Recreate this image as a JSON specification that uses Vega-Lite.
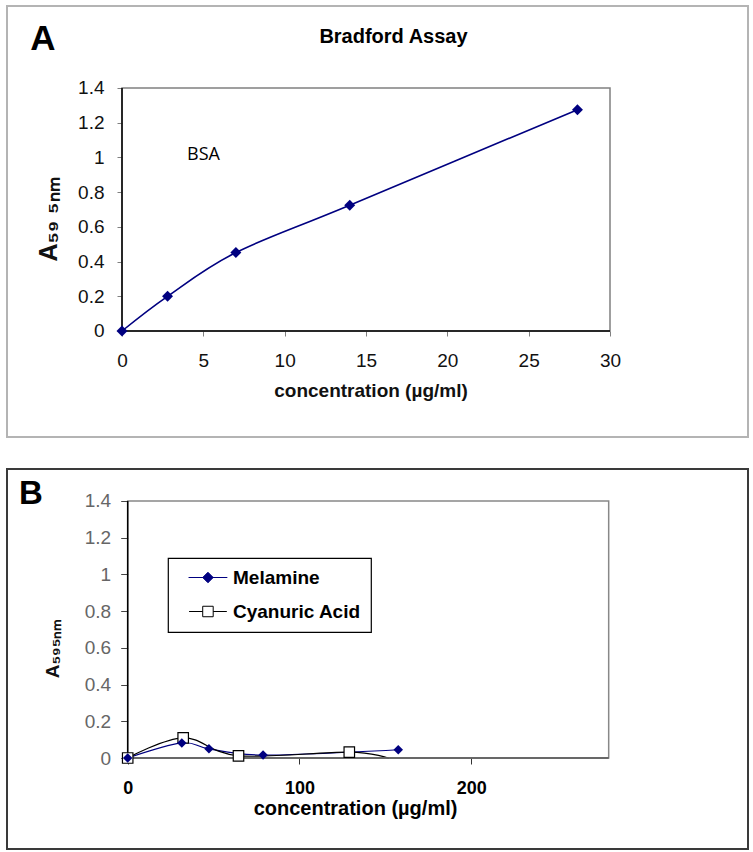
{
  "$schema": "https://vega.github.io/schema/vega-lite/v6.json",
  "padding": {"left": 6, "top": 5, "right": 0, "bottom": 0},
  "background": "white",
  "spacing": 30,
  "config": {"font": "Liberation Sans", "axis": {"grid": false, "zindex": 1}},
  "datasets": {
    "bsa": [
      {"c": 0, "a": 0},
      {"c": 2.8, "a": 0.2},
      {"c": 7, "a": 0.452},
      {"c": 14, "a": 0.725},
      {"c": 28, "a": 1.275}
    ],
    "b": [
      {"s": "Melamine", "c": 0, "a": 0},
      {"s": "Melamine", "c": 31.5, "a": 0.082},
      {"s": "Melamine", "c": 47.3, "a": 0.05},
      {"s": "Melamine", "c": 78.8, "a": 0.016},
      {"s": "Melamine", "c": 157.5, "a": 0.045},
      {"s": "Cyanuric Acid", "c": 0, "a": 0},
      {"s": "Cyanuric Acid", "c": 32.3, "a": 0.11},
      {"s": "Cyanuric Acid", "c": 64.5, "a": 0.012},
      {"s": "Cyanuric Acid", "c": 129, "a": 0.032},
      {"s": "Cyanuric Acid", "c": 152, "a": -0.002}
    ],
    "one": [{}]
  },
  "vconcat": [
    {
      "width": 741,
      "height": 431,
      "view": {"stroke": "#b4b4b4", "strokeWidth": 2},
      "layer": [
        {
          "data": {"name": "bsa"},
          "mark": {"type": "line", "interpolate": "cardinal", "color": "#000080", "strokeWidth": 1.6},
          "encoding": {
            "x": {
              "field": "c", "type": "quantitative",
              "scale": {"domain": [-7.0697, 38.4836], "nice": false, "zero": false},
              "axis": {
                "values": [0, 5, 10, 15, 20, 25, 30], "offset": -106, "domain": false,
                "tickColor": "#808080", "tickSize": 5, "labelFontSize": 19, "labelColor": "#111",
                "labelPadding": 15, "labelFlush": false, "labelOverlap": false, "format": "d",
                "title": "concentration (µg/ml)", "titleFontSize": 19, "titleFontWeight": "bold",
                "titleColor": "#111", "titleX": 363.5, "titleY": 59, "titleAlign": "center", "titleBaseline": "middle"
              }
            },
            "y": {
              "field": "a", "type": "quantitative",
              "scale": {"domain": [-0.6107, 1.8724], "nice": false, "zero": false},
              "axis": {
                "values": [0, 0.2, 0.4, 0.6, 0.8, 1, 1.2, 1.4], "offset": -115, "domain": false,
                "tickColor": "#808080", "tickSize": 5, "labelFontSize": 19, "labelColor": "#111",
                "labelPadding": 13, "labelFlush": false, "labelOverlap": false, "format": "~g",
                "title": "A₅₉ ₅ₙₘ", "titleFontSize": 25, "titleFontWeight": "bold", "titleColor": "#111",
                "titleX": -74, "titleY": 213, "titleAngle": -90, "titleAlign": "center", "titleBaseline": "middle"
              }
            }
          }
        },
        {
          "data": {"name": "one"},
          "mark": {"type": "rect", "fill": null, "stroke": "#808080", "strokeWidth": 1.5},
          "encoding": {
            "x": {"datum": 0, "type": "quantitative"},
            "x2": {"datum": 30},
            "y": {"datum": 0, "type": "quantitative"},
            "y2": {"datum": 1.4}
          }
        },
        {
          "data": {"name": "one"},
          "mark": {"type": "rule", "color": "black", "strokeWidth": 1.5},
          "encoding": {
            "x": {"datum": 0, "type": "quantitative"},
            "y": {"datum": 0, "type": "quantitative"},
            "y2": {"datum": 1.4}
          }
        },
        {
          "data": {"name": "one"},
          "mark": {"type": "rule", "color": "black", "strokeWidth": 1.5},
          "encoding": {
            "x": {"datum": 0, "type": "quantitative"},
            "x2": {"datum": 30},
            "y": {"datum": 0, "type": "quantitative"}
          }
        },
        {
          "data": {"name": "bsa"},
          "mark": {"type": "point", "shape": "diamond", "filled": true, "color": "#000080", "size": 120, "opacity": 1},
          "encoding": {
            "x": {"field": "c", "type": "quantitative"},
            "y": {"field": "a", "type": "quantitative"}
          }
        },
        {
          "data": {"name": "one"},
          "mark": {"type": "text", "text": "BSA", "font": "Open Sans", "fontSize": 18, "align": "left", "baseline": "middle", "color": "black"},
          "encoding": {
            "x": {"datum": 4.0, "type": "quantitative"},
            "y": {"datum": 1.014, "type": "quantitative"}
          }
        },
        {
          "data": {"name": "one"},
          "mark": {"type": "text", "text": "Bradford Assay", "fontSize": 20, "fontWeight": "bold", "align": "center", "baseline": "middle", "color": "black"},
          "encoding": {
            "x": {"datum": 16.69, "type": "quantitative"},
            "y": {"datum": 1.694, "type": "quantitative"}
          }
        },
        {
          "data": {"name": "one"},
          "mark": {"type": "text", "text": "A", "fontSize": 35, "fontWeight": "bold", "align": "center", "baseline": "middle", "color": "black"},
          "encoding": {
            "x": {"datum": -4.86, "type": "quantitative"},
            "y": {"datum": 1.682, "type": "quantitative"}
          }
        }
      ]
    },
    {
      "width": 741,
      "height": 380,
      "view": {"stroke": "#3a3a3a", "strokeWidth": 2},
      "layer": [
        {
          "data": {"name": "b"},
          "mark": {"type": "line", "interpolate": "cardinal", "strokeWidth": 1.2},
          "encoding": {
            "x": {
              "field": "c", "type": "quantitative",
              "scale": {"domain": [-70.26, 361.1], "nice": false, "zero": false},
              "axis": {
                "values": [0, 100, 200], "offset": -91, "domain": false,
                "tickColor": "#333", "tickSize": 6, "labelFontSize": 18, "labelFontWeight": "bold", "labelColor": "#000",
                "labelPadding": 15, "labelFlush": false, "labelOverlap": false, "format": "d",
                "title": "concentration (µg/ml)", "titleFontSize": 20, "titleFontWeight": "bold",
                "titleColor": "#000", "titleX": 348, "titleY": 50, "titleAlign": "center", "titleBaseline": "middle"
              }
            },
            "y": {
              "field": "a", "type": "quantitative",
              "scale": {"domain": [-0.4957, 1.5743], "nice": false, "zero": false},
              "axis": {
                "values": [0, 0.2, 0.4, 0.6, 0.8, 1, 1.2, 1.4], "offset": -120.7, "domain": false,
                "tickColor": "#444", "tickSize": 7, "labelFontSize": 19, "labelColor": "#666",
                "labelPadding": 10, "labelFlush": false, "labelOverlap": false, "format": "~g",
                "title": "A₅₉₅ₙₘ", "titleFontSize": 19, "titleFontWeight": "bold", "titleColor": "#111",
                "titleX": -75, "titleY": 179, "titleAngle": -90, "titleAlign": "center", "titleBaseline": "middle"
              }
            },
            "color": {
              "field": "s", "type": "nominal",
              "scale": {"domain": ["Melamine", "Cyanuric Acid"], "range": ["#000080", "#000000"]},
              "legend": {
                "title": null, "orient": "none", "legendX": 161, "legendY": 552,
                "fillColor": "white", "strokeColor": "black", "padding": 10,
                "labelFontSize": 19, "labelFontWeight": "bold", "labelColor": "#000", "labelOffset": 36,
                "rowPadding": 14, "symbolSize": 110,
                "encode": {
                  "legend": {"update": {"strokeWidth": {"value": 1.2}}},
                  "symbols": {
                    "update": {
                      "shape": {"signal": "datum.value === 'Melamine' ? 'M0.2,0H7.6M3.9,-1L4.9,0L3.9,1L2.9,0Z' : 'M0.3,0H2.9M4.9,0H7.5M2.9,-1H4.9V1H2.9Z'"},
                      "fill": {"signal": "datum.value === 'Melamine' ? '#000080' : '#ffffff'"},
                      "stroke": {"signal": "datum.value === 'Melamine' ? '#000080' : '#000000'"},
                      "strokeWidth": {"value": 1},
                      "opacity": {"value": 1}
                    }
                  }
                }
              }
            }
          }
        },
        {
          "data": {"name": "one"},
          "mark": {"type": "rect", "fill": null, "stroke": "#888888", "strokeWidth": 1.5},
          "encoding": {
            "x": {"datum": 0, "type": "quantitative"},
            "x2": {"datum": 280},
            "y": {"datum": 0, "type": "quantitative"},
            "y2": {"datum": 1.4}
          }
        },
        {
          "data": {"name": "one"},
          "mark": {"type": "rule", "color": "black", "strokeWidth": 1.5},
          "encoding": {
            "x": {"datum": 0, "type": "quantitative"},
            "y": {"datum": 0, "type": "quantitative"},
            "y2": {"datum": 1.4}
          }
        },
        {
          "data": {"name": "one"},
          "mark": {"type": "rule", "color": "#555555", "strokeWidth": 1.5},
          "encoding": {
            "x": {"datum": 0, "type": "quantitative"},
            "x2": {"datum": 280},
            "y": {"datum": 0, "type": "quantitative"}
          }
        },
        {
          "data": {"name": "b"},
          "transform": [{"filter": "datum.s === 'Cyanuric Acid' && datum.c < 150"}],
          "mark": {"type": "point", "shape": "square", "filled": true, "fill": "white", "stroke": "black", "strokeWidth": 1.2, "size": 110, "opacity": 1},
          "encoding": {
            "x": {"field": "c", "type": "quantitative"},
            "y": {"field": "a", "type": "quantitative"}
          }
        },
        {
          "data": {"name": "b"},
          "transform": [{"filter": "datum.s === 'Melamine'"}],
          "mark": {"type": "point", "shape": "diamond", "filled": true, "color": "#000080", "size": 90, "opacity": 1},
          "encoding": {
            "x": {"field": "c", "type": "quantitative"},
            "y": {"field": "a", "type": "quantitative"}
          }
        },
        {
          "data": {"name": "one"},
          "mark": {"type": "text", "text": "B", "fontSize": 33, "fontWeight": "bold", "align": "center", "baseline": "middle", "color": "black"},
          "encoding": {
            "x": {"datum": -56.3, "type": "quantitative"},
            "y": {"datum": 1.438, "type": "quantitative"}
          }
        }
      ]
    }
  ]
}
